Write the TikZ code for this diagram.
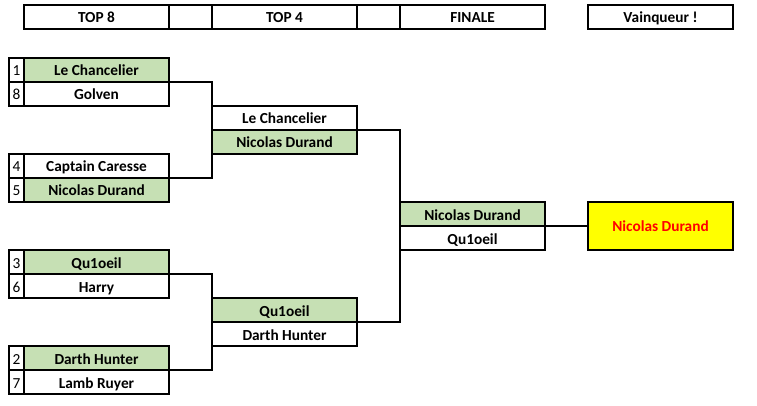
\documentclass[tikz,border=0pt]{standalone}
\usepackage{fontspec}
\setmainfont{Carlito}
\usepackage{tikz}
\usetikzlibrary{positioning}

\definecolor{wingreen}{HTML}{C6E0B4}
\definecolor{champyellow}{HTML}{FFFF00}
\definecolor{champred}{HTML}{FF0000}

\tikzset{
    cell/.style={draw, line width=0.8pt, outer sep=0pt, minimum width=108.75pt, minimum height=18pt, inner sep=0pt, text height=9pt, text depth=0pt, font=\fontsize{11.5}{13}\selectfont\bfseries},
    gap/.style={draw, line width=0.8pt, outer sep=0pt, minimum width=32.25pt, minimum height=18pt, inner sep=0pt},
    seed/.style={draw, line width=0.8pt, outer sep=0pt, minimum width=11.25pt, minimum height=18pt, inner sep=0pt, text height=9pt, text depth=0pt, font=\fontsize{11.5}{13}\selectfont},
    won/.style={cell, fill=wingreen},
    link/.style={line width=0.9pt}
}

\begin{document}
\begin{tikzpicture}[x=0.75pt, y=-0.75pt]
        \useasboundingbox (0,0) rectangle (757,406);

        % Header row
        \node[cell] (h8) at (96.5, 17) {TOP 8};
        \node[gap] (hg1) at (190.5, 17) {};
        \node[cell] (h4) at (284.5, 17) {TOP 4};
        \node[gap] (hg2) at (378.5, 17) {};
        \node[cell] (hf) at (472.5, 17) {FINALE};
        \node[cell] (hw) at (660.5, 17) {Vainqueur !};

        % Top 8
        \node[seed] (n1) at (16.5, 70) {1};
        \node[won] (q1a) at (96.5, 70) {Le Chancelier};
        \node[seed] (n8) at (16.5, 94) {8};
        \node[cell] (q1b) at (96.5, 94) {Golven};

        \node[seed] (n4) at (16.5, 166) {4};
        \node[cell] (q2a) at (96.5, 166) {Captain Caresse};
        \node[seed] (n5) at (16.5, 190) {5};
        \node[won] (q2b) at (96.5, 190) {Nicolas Durand};

        \node[seed] (n3) at (16.5, 262) {3};
        \node[won] (q3a) at (96.5, 262) {Qu1oeil};
        \node[seed] (n6) at (16.5, 286) {6};
        \node[cell] (q3b) at (96.5, 286) {Harry};

        \node[seed] (n2) at (16.5, 358) {2};
        \node[won] (q4a) at (96.5, 358) {Darth Hunter};
        \node[seed] (n7) at (16.5, 382) {7};
        \node[cell] (q4b) at (96.5, 382) {Lamb Ruyer};

        % Top 4
        \node[cell] (s1a) at (284.5, 118) {Le Chancelier};
        \node[won] (s1b) at (284.5, 142) {Nicolas Durand};
        \node[won] (s2a) at (284.5, 310) {Qu1oeil};
        \node[cell] (s2b) at (284.5, 334) {Darth Hunter};

        % Finale
        \node[won] (fa) at (472.5, 214) {Nicolas Durand};
        \node[cell] (fb) at (472.5, 238) {Qu1oeil};

        % Winner
        \node[cell, fill=champyellow, text=champred, minimum height=36pt] (w) at (660.5, 226) {Nicolas Durand};

        % Draw edges
        \draw[link] (q1a.south east) -| (s1b.north west) |- (q2a.south east);
        \draw[link] (q3a.south east) -| (s2a.south west) |- (q4a.south east);
        \draw[link] (s1a.south east) -| (fa.south west) |- (s2a.south east);
        \draw[link] (fa.south east) -- (w.west);
    \end{tikzpicture}
\end{document}
